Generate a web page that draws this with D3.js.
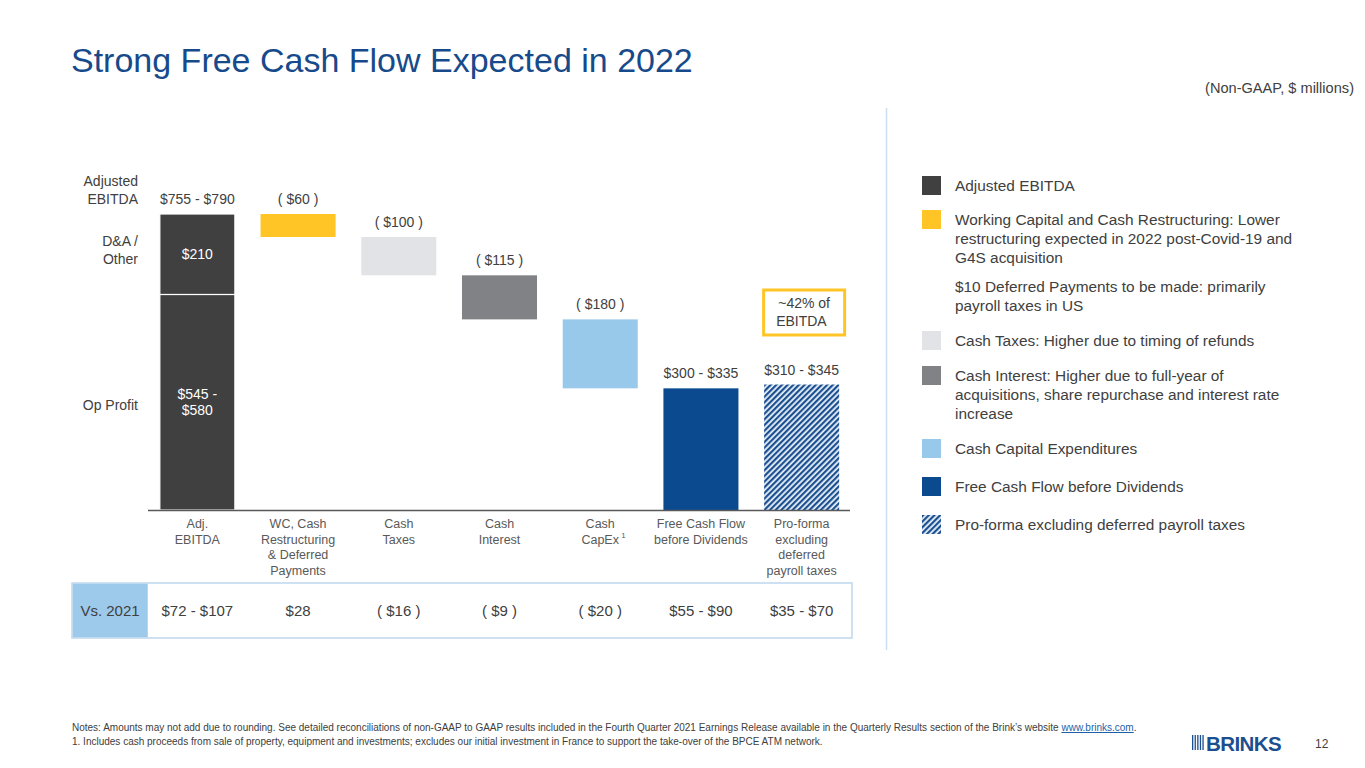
<!DOCTYPE html>
<html>
<head>
<meta charset="utf-8">
<script src="https://cdn.jsdelivr.net/npm/d3@7"></script>
<style>
  body { margin: 0; background: #fff; }
  svg { display: block; font-family: "Liberation Sans", Arial, sans-serif; }
</style>
</head>
<body>
<svg id="chart" width="1365" height="768"></svg>
<script>
// chart values (midpoints of the guided ranges, $ millions)
var categories = ['adj', 'wc', 'tax', 'interest', 'capex', 'fcf', 'proforma'];
var categoryLabels = [
  ['Adj.', 'EBITDA'],
  ['WC, Cash', 'Restructuring', '& Deferred', 'Payments'],
  ['Cash', 'Taxes'],
  ['Cash', 'Interest'],
  ['Cash', 'CapEx'],
  ['Free Cash Flow', 'before Dividends'],
  ['Pro-forma', 'excluding', 'deferred', 'payroll taxes']
];
var stepValues = [772.5, -60, -100, -115, -180, 317.5, 327.5];
var stepKinds = ['total', 'delta', 'delta', 'delta', 'delta', 'total', 'total'];
var stepColors = ['#404040', '#FFC425', '#E1E3E6', '#808285', '#99C9EA', '#0B4A8F', 'url(#hatch)'];
var valueLabels = ['$755 - $790', '( $60 )', '( $100 )', '( $115 )', '( $180 )', '$300 - $335', '$310 - $345'];
var ebitdaParts = [562.5, 210];           // Op Profit, D&A / Other
var ebitdaPartLabels = [['$545 -', '$580'], ['$210']];
var vs2021 = ['$72 - $107', '$28', '( $16 )', '( $9 )', '( $20 )', '$55 - $90', '$35 - $70'];

var legendItems = [
  { color: '#404040', lines: ['Adjusted EBITDA'] },
  { color: '#FFC425', lines: ['Working Capital and Cash Restructuring: Lower', 'restructuring expected in 2022 post-Covid-19 and', 'G4S acquisition'] },
  { color: null, lines: ['$10 Deferred Payments to be made: primarily', 'payroll taxes in US'] },
  { color: '#E1E3E6', lines: ['Cash Taxes: Higher due to timing of refunds'] },
  { color: '#808285', lines: ['Cash Interest: Higher due to full-year of', 'acquisitions, share repurchase and interest rate', 'increase'] },
  { color: '#99C9EA', lines: ['Cash Capital Expenditures'] },
  { color: '#0B4A8F', lines: ['Free Cash Flow before Dividends'] },
  { color: 'url(#hatch)', lines: ['Pro-forma excluding deferred payroll taxes'] }
];
var legendTops = [176, 210, 277, 331, 366, 439, 477, 515];

var textColor = '#404040';
var svg = d3.select('#chart');

// hatch pattern for the pro-forma bar
var defs = svg.append('defs');
var pat = defs.append('pattern')
    .attr('id', 'hatch')
    .attr('patternUnits', 'userSpaceOnUse')
    .attr('width', 4)
    .attr('height', 4)
    .attr('patternTransform', 'rotate(45)');
pat.append('rect').attr('width', 4).attr('height', 4).attr('fill', '#EAF2FA');
pat.append('rect').attr('width', 2.2).attr('height', 4).attr('fill', '#1B4F8F');

// title
svg.append('text')
    .attr('x', 71).attr('y', 72)
    .style('font-size', '34px')
    .style('fill', '#174A8B')
    .text('Strong Free Cash Flow Expected in 2022');

svg.append('text')
    .attr('x', 1354).attr('y', 93)
    .attr('text-anchor', 'end')
    .style('font-size', '14.6px')
    .style('fill', textColor)
    .text('(Non-GAAP, $ millions)');

// scales
var x = d3.scaleBand()
    .domain(categories)
    .range([147, 852])
    .paddingInner(0.255)
    .paddingOuter(0.1275);

var y = d3.scaleLinear()
    .domain([0, stepValues[0]])
    .range([510, 214]);

// waterfall positions
var running = 0;
var bars = stepValues.map(function(v, i) {
  var lo, hi;
  if (stepKinds[i] === 'total') {
    lo = 0; hi = v;
    if (i === 0) running = v;
  } else {
    hi = running; lo = running + v;
    running = lo;
  }
  return { key: categories[i], lo: lo, hi: hi, color: stepColors[i], label: valueLabels[i] };
});

var g = svg.append('g');

// EBITDA split into Op Profit and D&A
var partBase = 0;
var parts = ebitdaParts.map(function(v, i) {
  var p = { lo: partBase, hi: partBase + v, label: ebitdaPartLabels[i] };
  partBase += v;
  return p;
});

g.selectAll('.bar')
  .data(bars.slice(1))
  .enter().append('rect')
    .attr('class', 'bar')
    .attr('x', function(d) { return x(d.key); })
    .attr('width', x.bandwidth())
    .attr('y', function(d) { return y(d.hi); })
    .attr('height', function(d) { return y(d.lo) - y(d.hi); })
    .attr('fill', function(d) { return d.color; });

g.selectAll('.part')
  .data(parts)
  .enter().append('rect')
    .attr('class', 'part')
    .attr('x', x('adj'))
    .attr('width', x.bandwidth())
    .attr('y', function(d) { return y(d.hi); })
    .attr('height', function(d) { return y(d.lo) - y(d.hi); })
    .attr('fill', stepColors[0])
    .attr('stroke', '#fff')
    .attr('stroke-width', 1.2);

// labels inside EBITDA parts
parts.forEach(function(p) {
  var cy = (y(p.lo) + y(p.hi)) / 2 - (p.label.length > 1 ? 8 : 0);
  var t = g.append('text')
      .attr('text-anchor', 'middle')
      .style('font-size', '14px')
      .style('fill', '#fff');
  p.label.forEach(function(line, j) {
    t.append('tspan')
        .attr('x', x('adj') + x.bandwidth() / 2)
        .attr('y', cy + 5 + j * 16)
        .text(line);
  });
});

// value labels above bars
g.selectAll('.val')
  .data(bars)
  .enter().append('text')
    .attr('class', 'val')
    .attr('x', function(d) { return x(d.key) + x.bandwidth() / 2; })
    .attr('y', function(d) { return y(d.hi) - 10; })
    .attr('text-anchor', 'middle')
    .style('font-size', '14px')
    .style('fill', textColor)
    .text(function(d) { return d.label; });

// axis baseline
g.append('line')
    .attr('x1', 148).attr('x2', 850)
    .attr('y1', y(0) + 0.5).attr('y2', y(0) + 0.5)
    .attr('stroke', '#595959')
    .attr('stroke-width', 1.5);

// category labels
categories.forEach(function(c, i) {
  var t = g.append('text')
      .attr('text-anchor', 'middle')
      .style('font-size', '12.5px')
      .style('fill', '#595959');
  categoryLabels[i].forEach(function(line, j) {
    t.append('tspan')
        .attr('x', x(c) + x.bandwidth() / 2)
        .attr('y', 528 + j * 15.5)
        .text(line);
  });
  if (c === 'capex') {
    g.append('text')
        .attr('x', x(c) + x.bandwidth() / 2 + 21)
        .attr('y', 538)
        .style('font-size', '8px')
        .style('fill', '#595959')
        .text('1');
  }
});

// left side labels
var sideLabels = [
  { lines: ['Adjusted', 'EBITDA'], y: 186 },
  { lines: ['D&A /', 'Other'], y: 246 },
  { lines: ['Op Profit'], y: 410 }
];
sideLabels.forEach(function(s) {
  var t = svg.append('text')
      .attr('text-anchor', 'end')
      .style('font-size', '14px')
      .style('fill', textColor);
  s.lines.forEach(function(line, j) {
    t.append('tspan').attr('x', 138).attr('y', s.y + j * 18).text(line);
  });
});

// ~42% callout
var px = x('proforma');
svg.append('rect')
    .attr('x', px - 0.5).attr('y', 290)
    .attr('width', 81).attr('height', 45)
    .attr('fill', '#fff')
    .attr('stroke', '#FFC425')
    .attr('stroke-width', 3);
var callout = svg.append('text')
    .style('font-size', '14px')
    .style('fill', textColor);
callout.append('tspan').attr('x', px + 40).attr('y', 308).attr('text-anchor', 'middle').text('~42% of');
callout.append('tspan').attr('x', px + 12).attr('y', 326).text('EBITDA');

// Vs. 2021 table
svg.append('rect')
    .attr('x', 72).attr('y', 583)
    .attr('width', 780).attr('height', 55)
    .attr('fill', '#fff')
    .attr('stroke', '#BDD7EE')
    .attr('stroke-width', 1.5);
svg.append('rect')
    .attr('x', 72.75).attr('y', 583.75)
    .attr('width', 75).attr('height', 53.5)
    .attr('fill', '#9DC9EB');
svg.append('text')
    .attr('x', 110).attr('y', 616)
    .attr('text-anchor', 'middle')
    .style('font-size', '15px')
    .style('fill', textColor)
    .text('Vs. 2021');
svg.selectAll('.vs')
  .data(vs2021)
  .enter().append('text')
    .attr('class', 'vs')
    .attr('x', function(d, i) { return x(categories[i]) + x.bandwidth() / 2; })
    .attr('y', 616)
    .attr('text-anchor', 'middle')
    .style('font-size', '15px')
    .style('fill', textColor)
    .text(function(d) { return d; });

// divider
svg.append('line')
    .attr('x1', 886.5).attr('x2', 886.5)
    .attr('y1', 108).attr('y2', 650)
    .attr('stroke', '#C9DFF1')
    .attr('stroke-width', 1.5);

// legend
var lg = svg.append('g');
legendItems.forEach(function(item, i) {
  var top = legendTops[i];
  if (item.color) {
    lg.append('rect')
        .attr('x', 922).attr('y', top)
        .attr('width', 19).attr('height', 19)
        .attr('fill', item.color);
  }
  var t = lg.append('text')
      .style('font-size', '15.4px')
      .style('fill', textColor);
  item.lines.forEach(function(line, j) {
    t.append('tspan')
        .attr('x', 955)
        .attr('y', top + 15 + j * 19)
        .text(line);
  });
});

// footnotes
var notes = svg.append('text')
    .attr('x', 72).attr('y', 731)
    .style('font-size', '10px')
    .style('fill', textColor);
notes.append('tspan').text('Notes: Amounts may not add due to rounding. See detailed reconciliations of non-GAAP to GAAP results included in the Fourth Quarter 2021 Earnings Release available in the Quarterly Results section of the Brink\u2019s website ');
notes.append('tspan').style('fill', '#1F5FA8').style('text-decoration', 'underline').text('www.brinks.com');
notes.append('tspan').text('.');
svg.append('text')
    .attr('x', 72).attr('y', 745)
    .style('font-size', '10px')
    .style('fill', textColor)
    .text('1.  Includes cash proceeds from sale of property, equipment and investments; excludes our initial investment in France to support the take-over of the BPCE ATM network.');

// logo and page number
var logo = svg.append('g');
d3.range(5).forEach(function(i) {
  logo.append('rect')
      .attr('x', 1192 + i * 2.6).attr('y', 735)
      .attr('width', 1.3).attr('height', 15)
      .attr('fill', '#1B4F8F');
});
logo.append('text')
    .attr('x', 1206).attr('y', 750.5)
    .style('font-size', '20.5px')
    .style('font-weight', 'bold')
    .style('fill', '#1B4F8F')
    .style('letter-spacing', '-0.6px')
    .text('BRINKS');
svg.append('text')
    .attr('x', 1315).attr('y', 748)
    .style('font-size', '12px')
    .style('fill', textColor)
    .text('12');
</script>
</body>
</html>
